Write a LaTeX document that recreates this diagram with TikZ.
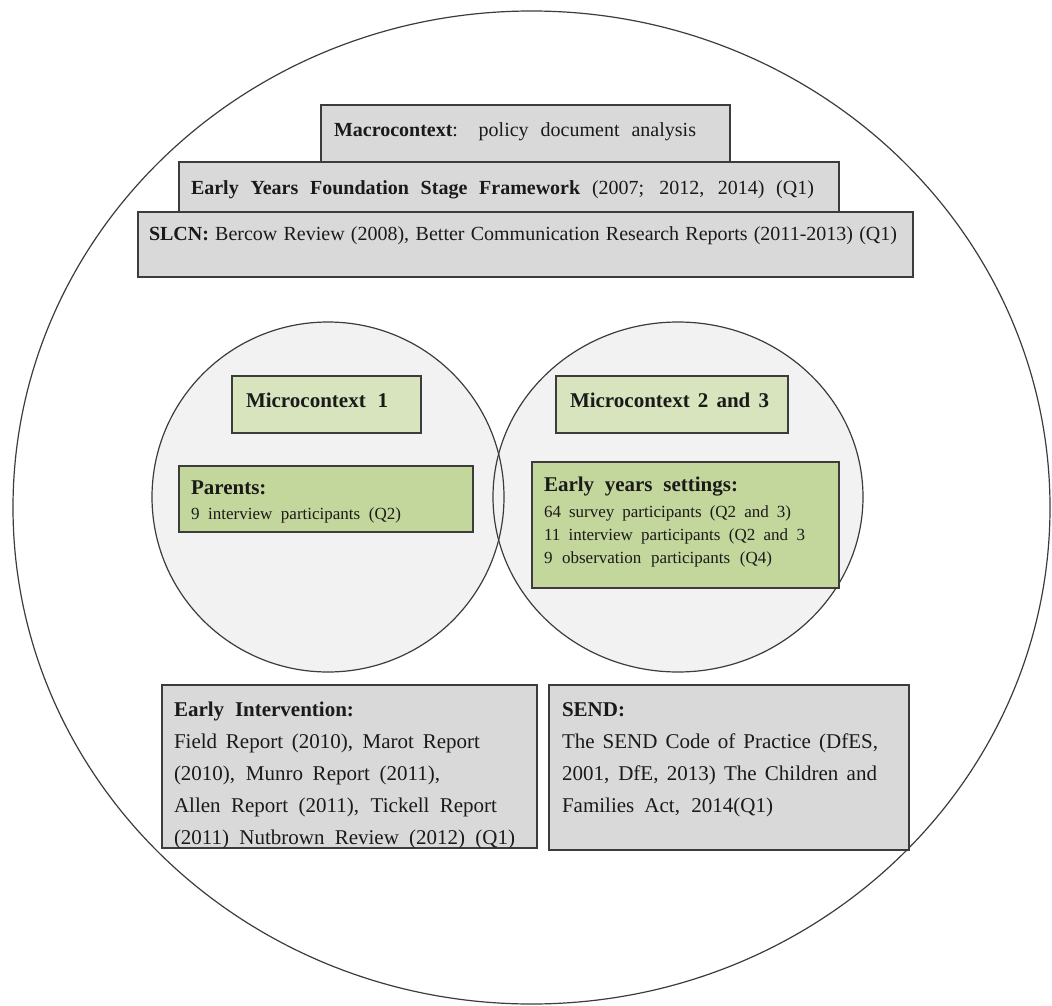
\documentclass[tikz,border=0pt]{standalone}
\usepackage{fontspec}
\setmainfont{Liberation Serif}
\usetikzlibrary{shapes.geometric}
\definecolor{boxgray}{HTML}{D9D9D9}
\definecolor{palegreen}{HTML}{D7E4BD}
\definecolor{midgreen}{HTML}{C3D69B}
\definecolor{circfill}{HTML}{F2F2F2}
\definecolor{edgecol}{HTML}{3C3C3C}
\definecolor{inkcol}{HTML}{1A1A1A}
\newcommand{\stretchline}[2]{\makebox[#1][s]{#2}}
\begin{document}
\begin{tikzpicture}[x=1pt,y=-1pt,
  rbox/.style={draw=edgecol, line width=1.4pt, inner sep=0pt, outer sep=0pt, anchor=north west},
  graybox/.style={rbox, fill=boxgray},
  palebox/.style={rbox, fill=palegreen},
  greenbox/.style={rbox, fill=midgreen},
  txt/.style={inner sep=0pt, outer sep=0pt, anchor=base west, text=inkcol},
  bigtxt/.style={txt, font=\fontsize{20}{24}\selectfont},
  headtxt/.style={txt, font=\fontsize{21}{24}\selectfont\bfseries},
  smalltxt/.style={txt, font=\fontsize{17}{20}\selectfont},
  bodytxt/.style={txt, font=\fontsize{21}{24}\selectfont},
  ring/.style={ellipse, inner sep=0pt, outer sep=0pt},
]
\useasboundingbox (0,0) rectangle (1052,1006);

% outer circle
\node[ring, draw=edgecol, line width=1.2pt, fill=white, minimum width=1037pt, minimum height=993pt] (outer) at (531.5,507.5) {};

% micro circles
\node[ring, fill=circfill, minimum width=352pt, minimum height=350pt] (mc1) at (328,497) {};
\node[ring, fill=circfill, minimum width=370pt, minimum height=350pt] (mc2) at (678,497) {};
\draw[edgecol, line width=1.2pt] (mc1.center) ellipse [x radius=176pt, y radius=175pt];
\draw[edgecol, line width=1.2pt] (mc2.center) ellipse [x radius=185pt, y radius=175pt];

% macro boxes
\node[graybox, minimum width=409pt, minimum height=57pt] (macro) at (321,105) {};
\node[graybox, minimum width=660pt, minimum height=50pt] (eyfs) at (179,162) {};
\node[graybox, minimum width=775pt, minimum height=65pt] (slcn) at (138,212) {};

\node[bigtxt] (macrot) at (334,136) {\stretchline{362pt}{\textbf{Macrocontext}: policy document analysis}};
\node[bigtxt] (eyfst) at (191,194) {\stretchline{623pt}{\textbf{Early Years Foundation Stage Framework} (2007; 2012, 2014) (Q1)}};
\node[bigtxt] (slcnt) at (149,240) {\stretchline{748pt}{\textbf{SLCN:} Bercow Review (2008), Better Communication Research Reports (2011-2013) (Q1)}};

% micro boxes
\node[palebox, minimum width=189pt, minimum height=57pt] (m1) at (232,376) {};
\node[palebox, minimum width=232pt, minimum height=57pt] (m23) at (556,376) {};
\node[headtxt] (m1t) at (246,407) {\stretchline{142pt}{Microcontext 1}};
\node[headtxt] (m23t) at (570,407) {\stretchline{199pt}{Microcontext 2 and 3}};

\node[greenbox, minimum width=294pt, minimum height=66pt] (par) at (179,466) {};
\node[headtxt] (part) at (191,494) {Parents:};
\node[smalltxt] (parl) at (191,519) {\stretchline{210pt}{9 interview participants (Q2)}};

\node[greenbox, minimum width=307pt, minimum height=126pt] (eys) at (532,462) {};
\node[headtxt] (eyst) at (544,491) {\stretchline{194pt}{Early years settings:}};
\node[smalltxt] (eysa) at (544,517) {\stretchline{247pt}{64 survey participants (Q2 and 3)}};
\node[smalltxt] (eysb) at (544,540) {\stretchline{261pt}{11 interview participants (Q2 and 3}};
\node[smalltxt] (eysc) at (544,563) {\stretchline{228pt}{9 observation participants (Q4)}};

% bottom boxes
\node[graybox, minimum width=375pt, minimum height=163pt] (ei) at (162,685) {};
\node[headtxt] (eit) at (174,716) {\stretchline{180pt}{Early Intervention:}};
\node[bodytxt] (eia) at (174,748) {\stretchline{306pt}{Field Report (2010), Marot Report}};
\node[bodytxt] (eib) at (174,780) {\stretchline{266pt}{(2010), Munro Report (2011),}};
\node[bodytxt] (eic) at (174,812) {\stretchline{323pt}{Allen Report (2011), Tickell Report}};
\node[bodytxt] (eid) at (174,844) {\stretchline{341pt}{(2011) Nutbrown Review (2012) (Q1)}};

\node[graybox, minimum width=360pt, minimum height=165pt] (send) at (549,685) {};
\node[headtxt] (sendt) at (562,716) {SEND:};
\node[bodytxt] (senda) at (562,748) {\stretchline{316pt}{The SEND Code of Practice (DfES,}};
\node[bodytxt] (sendb) at (562,780) {\stretchline{315pt}{2001, DfE, 2013) The Children and}};
\node[bodytxt] (sendc) at (562,812) {\stretchline{211pt}{Families Act, 2014(Q1)}};
\end{tikzpicture}
\end{document}
